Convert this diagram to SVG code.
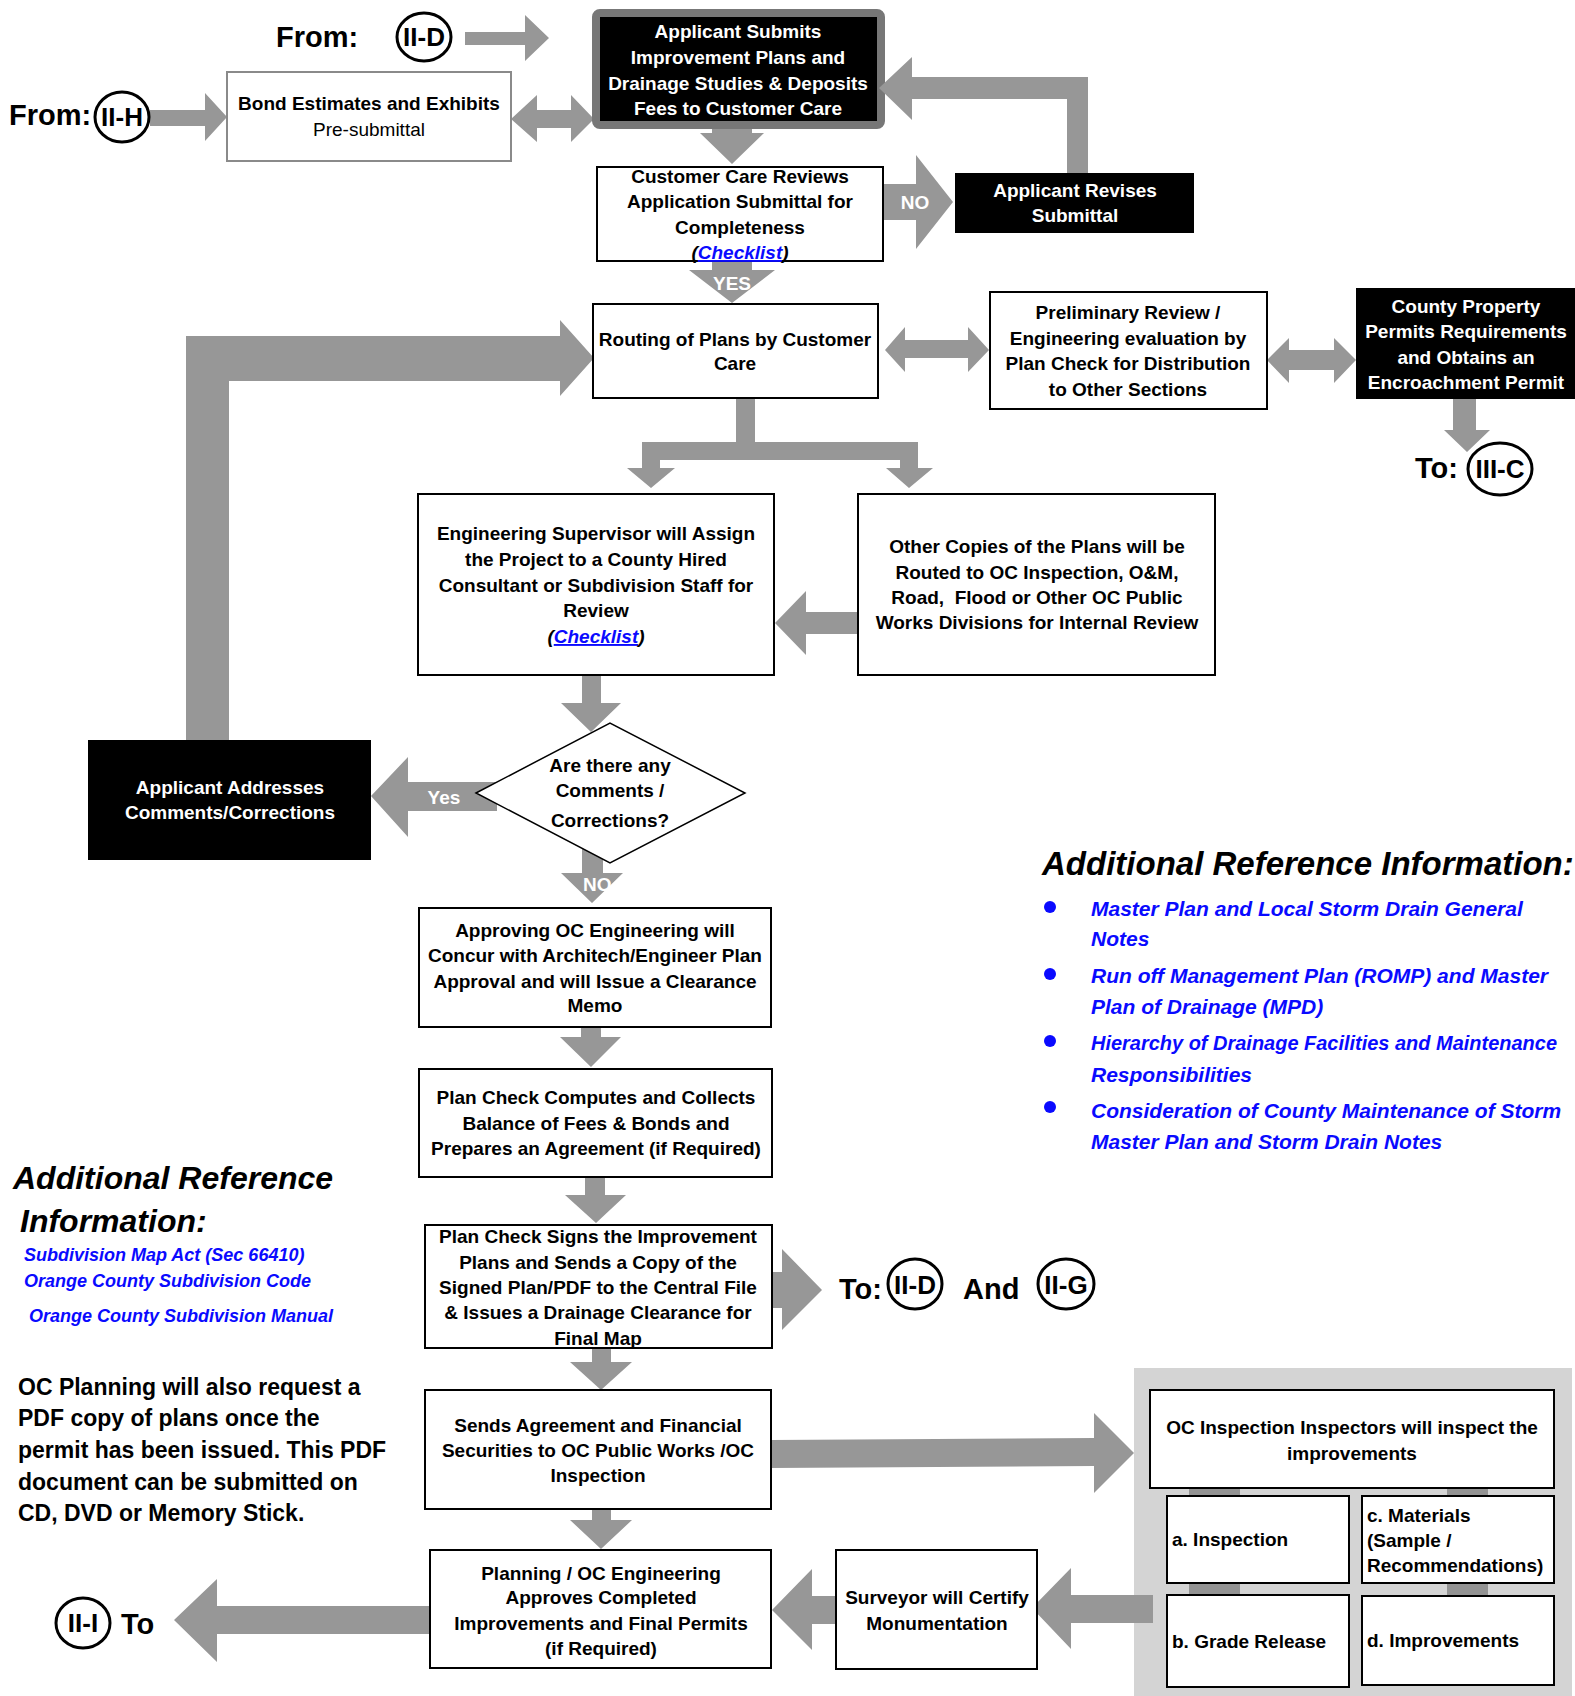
<svg xmlns="http://www.w3.org/2000/svg" width="1575" height="1696" viewBox="0 0 1575 1696">
<style>
text{font-family:"Liberation Sans",Arial,sans-serif;font-weight:bold;font-size:19px;fill:#000}
.c{text-anchor:middle}
.w{fill:#fff}
.n{font-weight:normal}
.big{font-size:29px}
.cl{font-size:26px;text-anchor:middle}
.ar{fill:#979797}
.bx{fill:#fff;stroke:#000;stroke-width:2}
.bk{fill:#000}
.ov{fill:#fff;stroke:#000;stroke-width:3}
.it{font-style:italic}
.lk{fill:#0a0aff;font-style:italic;text-decoration:underline}
.bl{fill:#0a0aff;font-style:italic}
.bar{fill:#939393}
.f18{font-size:18px}
.f21{font-size:21px}
.f23{font-size:23px}
.f32{font-size:32px}
.f33{font-size:33px}
</style>

<g id="connectors">
<polygon class="ar" points="465,32 525,32 525,15 549,38 525,61 525,45 465,45"/>
<polygon class="ar" points="150,110 205,110 205,93 227,117 205,141 205,126 150,126"/>
<polygon class="ar" points="511,119 537,95 537,110 571,110 571,95 594,119 571,142 571,128 537,128 537,142"/>
<polygon class="ar" points="712,128 752,128 752,133 764,133 732,164 700,133 712,133"/>
<polygon class="ar" points="883,184 916,184 916,155 953,202 916,249 916,220 883,220"/>
<polygon class="ar" points="712,261 752,261 752,270 775,270 732,303 689,270 712,270"/>
<polygon class="ar" points="186,740 186,336 560,336 560,320 594,358 560,396 560,381 229,381 229,740"/>
<polygon class="ar" points="885,350 905,327 905,340 968,340 968,327 989,350 968,372 968,358 905,358 905,372"/>
<polygon class="ar" points="1267,360 1289,338 1289,350 1334,350 1334,338 1356,360 1334,383 1334,370 1289,370 1289,383"/>
<polygon class="ar" points="1453,399 1476,399 1476,430 1490,430 1467,452 1444,430 1453,430"/>
<polygon class="ar" points="736,398 755,398 755,442 918,442 918,468 933,468 909,488 886,468 900,468 900,460 660,460 660,468 675,468 651,488 627,468 642,468 642,442 736,442"/>
<polygon class="ar" points="859,612 806,612 806,591 775,623 806,655 806,634 859,634"/>
<polygon class="ar" points="582,675 601,675 601,703 621,703 591,732 561,703 582,703"/>
<polygon class="ar" points="497,782 408,782 408,757 371,796 408,837 408,811 497,811"/>
<polygon class="ar" points="582,845 603,845 603,873 623,873 592,903 561,873 582,873"/>
<polygon class="ar" points="581,1027 601,1027 601,1037 621,1037 591,1067 560,1037 581,1037"/>
<polygon class="ar" points="585,1177 605,1177 605,1195 626,1195 596,1223 565,1195 585,1195"/>
<polygon class="ar" points="772,1272 782,1272 782,1249 822,1290 782,1330 782,1308 772,1308"/>
<polygon class="ar" points="592,1348 611,1348 611,1362 632,1362 601,1390 570,1362 592,1362"/>
<polygon class="ar" points="592,1509 611,1509 611,1520 632,1520 601,1549 570,1520 592,1520"/>
<polygon class="ar" points="430,1606 217,1606 217,1579 174,1620 217,1662 217,1634 430,1634"/>
<polygon class="ar" points="836,1596 812,1596 812,1569 772,1610 812,1650 812,1624 836,1624"/>
</g>

<g id="panel">
<rect x="1134" y="1368" width="438" height="328" fill="#d4d4d4"/>
<rect class="bar" x="1189" y="1486" width="51" height="12"/>
<rect class="bar" x="1447" y="1486" width="41" height="12"/>
<rect class="bar" x="1189" y="1581" width="51" height="16"/>
<rect class="bar" x="1447" y="1581" width="41" height="16"/>
</g>

<g id="connectors-2">
<polygon class="ar" points="771,1440 1094,1438 1094,1413 1134,1453 1094,1493 1094,1466 771,1468"/>
<polygon class="ar" points="1153,1595 1071,1595 1071,1568 1032,1608 1071,1649 1071,1623 1153,1623"/>
</g>

<g id="from-iid">
<text class="big" x="276" y="47">From:</text>
<ellipse class="ov" cx="424" cy="37" rx="27" ry="24"/>
<text class="cl" x="424" y="46">II-D</text>
</g>

<g id="from-iih">
<text class="big" x="9" y="125">From:</text>
<ellipse class="ov" cx="122" cy="117" rx="27" ry="25"/>
<text class="cl" x="122" y="126">II-H</text>
</g>

<g id="bond">
<rect x="227" y="72" width="284" height="89" fill="#fff" stroke="#8a8a8a" stroke-width="2"/>
<text class="c" x="369" y="110">Bond Estimates and Exhibits</text>
<text class="c n" x="369" y="136">Pre-submittal</text>
</g>

<g id="submit">
<rect x="596" y="13" width="285" height="112" rx="4" fill="#000" stroke="#777" stroke-width="8"/>
<text class="c w" x="738" y="38">Applicant Submits</text>
<text class="c w" x="738" y="64">Improvement Plans and</text>
<text class="c w" x="738" y="90">Drainage Studies &amp; Deposits</text>
<text class="c w" x="738" y="115">Fees to Customer Care</text>
</g>

<g id="return-arrow">
<polygon class="ar" points="1067,173 1067,99 912,99 912,120 879,88 912,57 912,77 1088,77 1088,173"/>
</g>

<g id="ccr">
<rect class="bx" x="597" y="167" width="286" height="94"/>
<text class="c" x="740" y="183">Customer Care Reviews</text>
<text class="c" x="740" y="208">Application Submittal for</text>
<text class="c" x="740" y="234">Completeness</text>
<text class="c it" x="740" y="259">(<tspan class="lk">Checklist</tspan>)</text>
</g>
<text class="c w" x="915" y="209">NO</text>
<text class="c w" x="732" y="290">YES</text>

<g id="revises">
<rect class="bk" x="955" y="173" width="239" height="60"/>
<text class="c w" x="1075" y="197">Applicant Revises</text>
<text class="c w" x="1075" y="222">Submittal</text>
</g>

<g id="routing">
<rect class="bx" x="593" y="304" width="285" height="94"/>
<text class="c" x="735" y="346">Routing of Plans by Customer</text>
<text class="c" x="735" y="370">Care</text>
</g>

<g id="prelim">
<rect class="bx" x="990" y="292" width="277" height="117"/>
<text class="c" x="1128" y="319">Preliminary Review /</text>
<text class="c" x="1128" y="345">Engineering evaluation by</text>
<text class="c" x="1128" y="370">Plan Check for Distribution</text>
<text class="c" x="1128" y="396">to Other Sections</text>
</g>

<g id="county">
<rect class="bk" x="1356" y="288" width="219" height="111"/>
<text class="c w" x="1466" y="313">County Property</text>
<text class="c w" x="1466" y="338">Permits Requirements</text>
<text class="c w" x="1466" y="364">and Obtains an</text>
<text class="c w" x="1466" y="389">Encroachment Permit</text>
</g>

<g id="to-iiic">
<text class="big" x="1415" y="478">To:</text>
<ellipse class="ov" cx="1500" cy="469" rx="32" ry="26"/>
<text class="cl" x="1500" y="478">III-C</text>
</g>

<g id="eng-sup">
<rect class="bx" x="418" y="494" width="356" height="181"/>
<text class="c" x="596" y="540">Engineering Supervisor will Assign</text>
<text class="c" x="596" y="566">the Project to a County Hired</text>
<text class="c" x="596" y="592">Consultant or Subdivision Staff for</text>
<text class="c" x="596" y="617">Review</text>
<text class="c it" x="596" y="643">(<tspan class="lk">Checklist</tspan>)</text>
</g>

<g id="other-copies">
<rect class="bx" x="858" y="494" width="357" height="181"/>
<text class="c" x="1037" y="553">Other Copies of the Plans will be</text>
<text class="c" x="1037" y="579">Routed to OC Inspection, O&amp;M,</text>
<text class="c" x="1037" y="604">Road,&#160; Flood or Other OC Public</text>
<text class="c" x="1037" y="629">Works Divisions for Internal Review</text>
</g>

<text class="c w" x="444" y="804">Yes</text>
<text class="w" x="583" y="891">NO</text>

<g id="decision">
<polygon points="476,793 610,723 745,793 610,863" fill="#fff" stroke="#000" stroke-width="1.5"/>
<text class="c" x="610" y="772">Are there any</text>
<text class="c" x="610" y="797">Comments /</text>
<text class="c" x="610" y="827">Corrections?</text>
</g>

<g id="addresses">
<rect class="bk" x="88" y="740" width="283" height="120"/>
<text class="c w" x="230" y="794">Applicant Addresses</text>
<text class="c w" x="230" y="819">Comments/Corrections</text>
</g>

<g id="approving">
<rect class="bx" x="419" y="908" width="352" height="119"/>
<text class="c" x="595" y="937">Approving OC Engineering will</text>
<text class="c" x="595" y="962">Concur with Architech/Engineer Plan</text>
<text class="c" x="595" y="988">Approval and will Issue a Clearance</text>
<text class="c" x="595" y="1012">Memo</text>
</g>

<g id="computes">
<rect class="bx" x="419" y="1069" width="353" height="108"/>
<text class="c" x="596" y="1104">Plan Check Computes and Collects</text>
<text class="c" x="596" y="1130">Balance of Fees &amp; Bonds and</text>
<text class="c" x="596" y="1155">Prepares an Agreement (if Required)</text>
</g>

<g id="signs">
<rect class="bx" x="425" y="1225" width="347" height="123"/>
<text class="c" x="598" y="1243">Plan Check Signs the Improvement</text>
<text class="c" x="598" y="1269">Plans and Sends a Copy of the</text>
<text class="c" x="598" y="1294">Signed Plan/PDF to the Central File</text>
<text class="c" x="598" y="1319">&amp; Issues a Drainage Clearance for</text>
<text class="c" x="598" y="1345">Final Map</text>
</g>

<g id="to-iid-iig">
<text class="big" x="839" y="1299">To:</text>
<ellipse class="ov" cx="915" cy="1284" rx="27" ry="25"/>
<text class="cl" x="915" y="1294">II-D</text>
<text class="big" x="963" y="1299">And</text>
<ellipse class="ov" cx="1066" cy="1284" rx="28" ry="25"/>
<text class="cl" x="1066" y="1294">II-G</text>
</g>

<g id="sends">
<rect class="bx" x="425" y="1390" width="346" height="119"/>
<text class="c" x="598" y="1432">Sends Agreement and Financial</text>
<text class="c" x="598" y="1457">Securities to OC Public Works /OC</text>
<text class="c" x="598" y="1482">Inspection</text>
</g>

<g id="inspectors">
<rect class="bx" x="1150" y="1390" width="404" height="98"/>
<text class="c" x="1352" y="1434">OC Inspection Inspectors will inspect the</text>
<text class="c" x="1352" y="1460">improvements</text>
</g>

<g id="a-inspection">
<rect class="bx" x="1167" y="1496" width="182" height="87"/>
<text x="1172" y="1546">a. Inspection</text>
</g>
<g id="c-materials">
<rect class="bx" x="1362" y="1496" width="192" height="87"/>
<text x="1367" y="1522">c. Materials</text>
<text x="1367" y="1547">(Sample /</text>
<text x="1367" y="1572">Recommendations)</text>
</g>
<g id="b-grade">
<rect class="bx" x="1167" y="1595" width="182" height="92"/>
<text x="1172" y="1648">b. Grade Release</text>
</g>
<g id="d-improvements">
<rect class="bx" x="1362" y="1596" width="192" height="89"/>
<text x="1367" y="1647">d. Improvements</text>
</g>

<g id="surveyor">
<rect class="bx" x="836" y="1550" width="201" height="119"/>
<text class="c" x="937" y="1604">Surveyor will Certify</text>
<text class="c" x="937" y="1630">Monumentation</text>
</g>

<g id="planning">
<rect class="bx" x="430" y="1550" width="341" height="118"/>
<text class="c" x="601" y="1580">Planning / OC Engineering</text>
<text class="c" x="601" y="1604">Approves Completed</text>
<text class="c" x="601" y="1630">Improvements and Final Permits</text>
<text class="c" x="601" y="1655">(if Required)</text>
</g>

<g id="to-iii">
<ellipse class="ov" cx="83" cy="1623" rx="27" ry="25"/>
<text class="cl" x="83" y="1632">II-I</text>
<text class="big" x="121" y="1634">To</text>
</g>

<g id="ref-left">
<text class="it f32" x="13" y="1189">Additional Reference</text>
<text class="it f32" x="20" y="1232">Information:</text>
<text class="bl f18" x="24" y="1261">Subdivision Map Act (Sec 66410)</text>
<text class="bl f18" x="24" y="1287">Orange County Subdivision Code</text>
<text class="bl f18" x="29" y="1322">Orange County Subdivision Manual</text>
</g>

<g id="pdf-note">
<text class="f23" x="18" y="1395">OC Planning will also request a</text>
<text class="f23" x="18" y="1426">PDF copy of plans once the</text>
<text class="f23" x="18" y="1458">permit has been issued. This PDF</text>
<text class="f23" x="18" y="1490">document can be submitted on</text>
<text class="f23" x="18" y="1521">CD, DVD or Memory Stick.</text>
</g>

<g id="ref-right">
<text class="it f33" x="1042" y="875">Additional Reference Information:</text>
<circle cx="1050" cy="907" r="6" fill="#0a0aff"/>
<circle cx="1050" cy="974" r="6" fill="#0a0aff"/>
<circle cx="1050" cy="1041" r="6" fill="#0a0aff"/>
<circle cx="1050" cy="1107" r="6" fill="#0a0aff"/>
<text class="bl f21" x="1091" y="916">Master Plan and Local Storm Drain General</text>
<text class="bl f21" x="1091" y="946">Notes</text>
<text class="bl f21" x="1091" y="983">Run off Management Plan (ROMP) and Master</text>
<text class="bl f21" x="1091" y="1014">Plan of Drainage (MPD)</text>
<text class="bl" x="1091" y="1050" style="font-size:20px" textLength="466" lengthAdjust="spacingAndGlyphs">Hierarchy of Drainage Facilities and Maintenance</text>
<text class="bl f21" x="1091" y="1082">Responsibilities</text>
<text class="bl f21" x="1091" y="1118">Consideration of County Maintenance of Storm</text>
<text class="bl f21" x="1091" y="1149">Master Plan and Storm Drain Notes</text>
</g>
</svg>
